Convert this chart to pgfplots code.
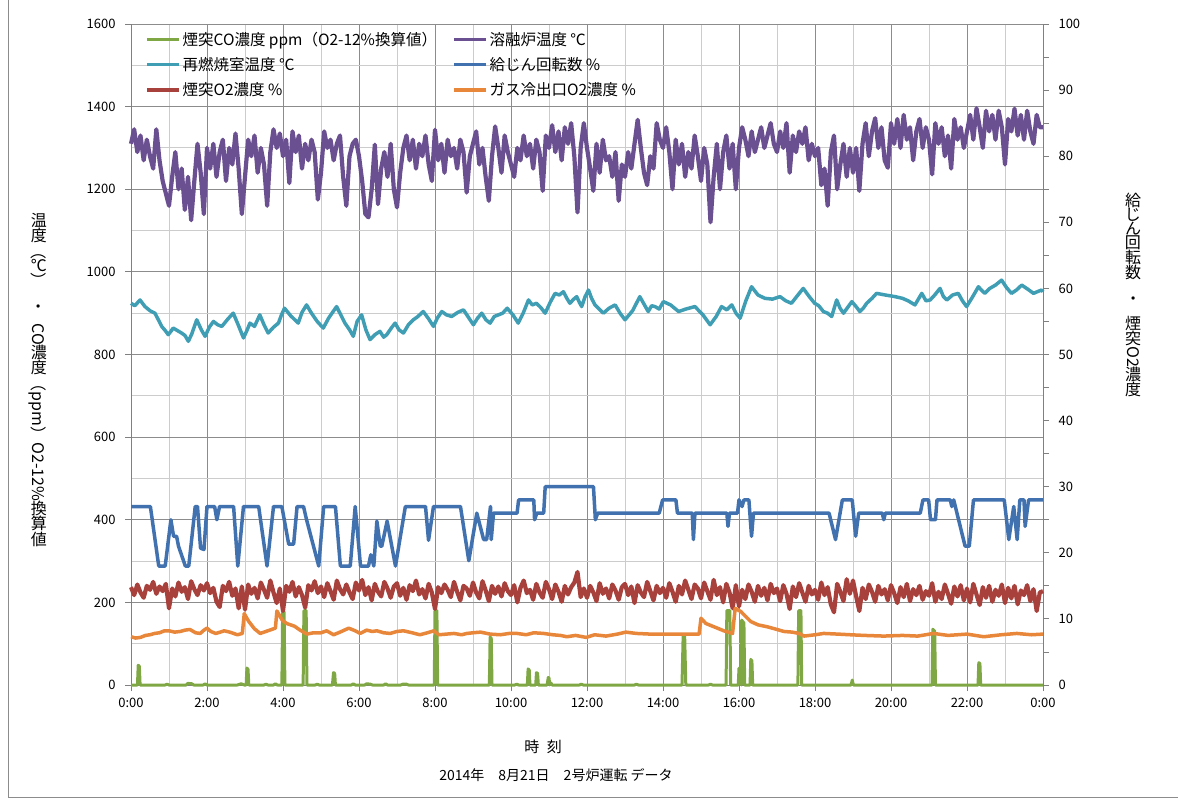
\documentclass[border=0pt]{standalone}
\usepackage{pgfplots}
\pgfplotsset{compat=1.18}
\usepackage{fontspec}
\setmainfont{Noto Sans CJK JP}
\definecolor{cGreen}{HTML}{7FA845}
\definecolor{cPurple}{HTML}{6B5091}
\definecolor{cTeal}{HTML}{409EB4}
\definecolor{cBlue}{HTML}{4172AF}
\definecolor{cRed}{HTML}{A8403C}
\definecolor{cOrange}{HTML}{E8863A}
\newcommand\U[1]{\rotatebox[origin=c]{90}{#1}\hspace{0.5pt}}
\begin{document}
\begin{tikzpicture}[x=1pt,y=1pt]
\useasboundingbox (0pt,0pt) rectangle (1178pt,801pt);
\draw[black!45] (8pt,801pt) -- (8pt,4pt) -- (1178pt,4pt);
\begin{axis}[at={(131pt,116pt)}, anchor=south west, scale only axis,
  width=912pt, height=661pt, clip=false,
  xmin=0, xmax=24, ymin=0, ymax=1600,
  xtick={0,2,...,24},
  xticklabels={0:00,2:00,4:00,6:00,8:00,10:00,12:00,14:00,16:00,18:00,20:00,22:00,0:00},
  minor xtick={1,3,...,23},
  ytick={0,200,...,1600}, minor ytick={100,300,...,1500},
  grid=both,
  major grid style={draw=black!45, line width=0.9pt},
  minor grid style={draw=black!20, line width=0.9pt},
  axis x line*=bottom, axis y line*=left,
  axis line style={draw=black!50, line width=0.9pt},
  tick align=outside, major tick length=6pt, minor tick length=0pt,
  tick style={draw=black!50, line width=0.9pt},
  ticklabel style={font=\fontsize{13}{15}\selectfont},
  yticklabel style={xshift=-6pt},
  xticklabel style={yshift=-4pt},
  /pgf/number format/assume math mode=true,
  /pgf/number format/1000 sep={},
  legend style={at={(0.012,0.994)}, anchor=north west, draw=none, fill=none,
    font=\fontsize{15.5}{17}\selectfont, row sep=6.5pt,
    /tikz/every even column/.append style={column sep=13pt}},
  legend columns=2, legend cell align=left,
  legend image code/.code={\draw[#1, line width=3.5pt] (0pt,0pt) -- (32pt,0pt);},
]
% CO ppm
\addplot[cGreen, line width=3pt, line join=round] coordinates {
(0,0) (0.17,0) (0.19,48) (0.22,45) (0.24,0) (0.9,0)(0.95,2)(1.0,0)(1.45,0)(1.5,4)(1.6,3)(1.65,0)(1.9,0)(1.95,3)(2.0,0)(2.8,0)(2.9,3)(2.98,0)(3.03,0)(3.05,41)(3.08,38)(3.1,0)(3.5,0)(3.55,2)(3.6,0)(3.75,0)(3.8,3)(3.85,0)(3.97,0)(3.99,177)(4.03,177)(4.05,0)(4.53,0)(4.55,180)(4.61,180)(4.63,0)(4.85,0)(4.9,2)(4.95,0)(5.3,0)(5.33,30)(5.36,28)(5.38,0)(5.8,0)(5.85,3)(5.9,0)(6.15,0)(6.2,3)(6.3,2)(6.35,0)(6.65,0)(6.7,3)(6.75,0)(7.1,0)(7.15,2)(7.25,2)(7.3,0)(7.98,0)(8.0,180)(8.05,180)(8.07,0)(9.43,0)(9.45,116)(9.48,113)(9.5,0)(10.1,0)(10.15,2)(10.2,0)(10.43,0)(10.45,39)(10.48,36)(10.5,0)(10.65,0)(10.67,30)(10.7,28)(10.72,0)(10.95,0)(10.98,18)(11.0,17)(11.02,0)(11.05,5)(11.08,0)(11.8,0)(11.85,2)(11.9,0)(13.25,0)(13.3,2)(13.35,0)(14.5,0)(14.53,120)(14.57,120)(14.6,0)(15.2,0)(15.25,2)(15.3,0)(15.66,0)(15.68,180)(15.76,180)(15.78,0)(15.98,0)(16.0,41)(16.04,41)(16.06,0)(16.07,157)(16.13,150)(16.15,0)(16.29,0)(16.31,62)(16.34,58)(16.36,0)(17.55,0)(17.57,180)(17.63,180)(17.65,0)(18.95,0)(18.98,12)(19.01,0)(21.08,0)(21.1,135)(21.15,130)(21.17,0)(22.29,0)(22.31,54)(22.34,52)(22.36,0)(24,0)};
\addlegendentry{煙突CO濃度 ppm（O2-12\%換算値）}
% melting furnace temperature, 5-min samples
\addplot[cPurple, line width=4.2pt, line join=round] table[row sep=\\, x expr=\coordindex/12, y index=0] {
1310\\1345\\1290\\1330\\1270\\1320\\1280\\1250\\1345\\1270\\1220\\1190\\
1160\\1230\\1290\\1200\\1250\\1150\\1230\\1125\\1220\\1310\\1240\\1140\\
1300\\1250\\1310\\1230\\1290\\1320\\1220\\1300\\1260\\1335\\1250\\1140\\
1230\\1320\\1280\\1330\\1240\\1300\\1260\\1160\\1290\\1345\\1300\\1335\\
1280\\1320\\1215\\1340\\1290\\1330\\1250\\1310\\1270\\1320\\1290\\1175\\
1240\\1340\\1300\\1320\\1270\\1310\\1330\\1230\\1160\\1280\\1310\\1320\\
1280\\1220\\1140\\1132\\1200\\1308\\1164\\1250\\1290\\1230\\1310\\1200\\
1156\\1240\\1300\\1330\\1270\\1320\\1250\\1310\\1280\\1330\\1260\\1220\\
1344\\1270\\1310\\1240\\1320\\1280\\1300\\1250\\1320\\1290\\1192\\1280\\
1310\\1340\\1260\\1300\\1230\\1172\\1280\\1352\\1300\\1240\\1330\\1290\\
1260\\1230\\1300\\1270\\1330\\1280\\1310\\1250\\1320\\1290\\1196\\1330\\
1300\\1355\\1290\\1340\\1270\\1350\\1310\\1360\\1280\\1144\\1300\\1360\\
1300\\1250\\1196\\1310\\1240\\1320\\1270\\1280\\1230\\1290\\1172\\1260\\
1230\\1290\\1250\\1310\\1368\\1300\\1240\\1210\\1280\\1250\\1360\\1320\\
1300\\1350\\1290\\1200\\1320\\1260\\1310\\1230\\1290\\1250\\1330\\1280\\
1220\\1300\\1260\\1120\\1230\\1310\\1200\\1290\\1330\\1250\\1310\\1200\\
1300\\1350\\1320\\1280\\1340\\1290\\1320\\1350\\1300\\1330\\1360\\1310\\
1290\\1340\\1300\\1360\\1240\\1330\\1290\\1340\\1310\\1350\\1270\\1310\\
1280\\1300\\1210\\1250\\1160\\1290\\1330\\1200\\1260\\1310\\1230\\1300\\
1240\\1300\\1196\\1310\\1360\\1280\\1340\\1372\\1300\\1350\\1270\\1252\\
1360\\1310\\1370\\1300\\1380\\1320\\1350\\1270\\1340\\1370\\1300\\1350\\
1320\\1236\\1360\\1310\\1350\\1280\\1330\\1250\\1370\\1320\\1350\\1300\\
1340\\1380\\1320\\1396\\1350\\1300\\1390\\1340\\1380\\1320\\1390\\1350\\
1260\\1370\\1340\\1395\\1330\\1380\\1320\\1390\\1340\\1310\\1380\\1350\\
1350\\
};
\addlegendentry{溶融炉温度 ℃}
% re-combustion chamber temperature
\addplot[cTeal, line width=3.5pt, line join=round] coordinates {
(0,924)(0.1,918)(0.237,932)(0.368,916)(0.5,906)(0.63,900)(0.72,884)(0.807,868)(0.9,858)(0.98,848)(1.05,856)(1.11,864)(1.22,858)(1.33,852)(1.42,846)(1.51,832)(1.6,850)(1.73,884)(1.85,860)(1.95,844)(2.06,866)(2.17,880)(2.28,872)(2.39,868)(2.55,886)(2.69,900)(2.82,872)(2.96,840)(3.05,858)(3.13,876)(3.25,868)(3.39,896)(3.5,872)(3.61,852)(3.75,866)(3.88,876)(3.96,896)(4.04,912)(4.2,894)(4.4,876)(4.5,902)(4.62,920)(4.75,900)(4.9,880)(5.06,864)(5.2,888)(5.41,916)(5.52,896)(5.63,876)(5.75,860)(5.85,844)(5.95,880)(6.07,896)(6.18,860)(6.29,836)(6.42,848)(6.55,856)(6.65,842)(6.73,848)(6.85,864)(6.95,876)(7.05,860)(7.17,852)(7.3,872)(7.43,884)(7.55,892)(7.69,904)(7.82,888)(7.96,868)(8.06,888)(8.18,904)(8.3,896)(8.44,892)(8.6,902)(8.75,908)(8.88,890)(9.01,872)(9.12,888)(9.23,900)(9.34,884)(9.45,876)(9.56,892)(9.67,896)(9.78,900)(9.9,912)(10.05,896)(10.19,876)(10.32,900)(10.46,932)(10.56,920)(10.67,924)(10.78,914)(10.9,900)(11.03,926)(11.16,948)(11.27,944)(11.38,952)(11.47,936)(11.55,924)(11.65,934)(11.73,940)(11.8,926)(11.86,916)(11.95,940)(12.04,956)(12.12,936)(12.21,920)(12.32,910)(12.43,900)(12.58,912)(12.74,920)(12.87,900)(13.0,884)(13.2,906)(13.39,940)(13.5,922)(13.61,904)(13.7,918)(13.79,916)(13.9,910)(14.01,928)(14.2,920)(14.41,904)(14.6,910)(14.84,916)(15.05,896)(15.24,872)(15.4,892)(15.54,916)(15.68,908)(15.81,920)(15.92,900)(16.03,888)(16.18,930)(16.33,964)(16.5,944)(16.68,936)(16.88,934)(17.08,940)(17.23,930)(17.38,924)(17.55,944)(17.69,960)(17.85,940)(17.99,924)(18.1,918)(18.22,904)(18.33,900)(18.44,892)(18.57,932)(18.66,912)(18.75,900)(18.86,914)(18.97,928)(19.08,916)(19.18,904)(19.27,912)(19.36,924)(19.5,936)(19.62,948)(19.85,944)(20.11,940)(20.3,936)(20.45,930)(20.63,920)(20.72,934)(20.81,948)(20.92,930)(21.03,932)(21.15,944)(21.29,960)(21.38,940)(21.47,932)(21.62,944)(21.77,948)(21.88,930)(21.99,916)(22.15,940)(22.3,964)(22.38,956)(22.47,948)(22.6,960)(22.75,968)(22.91,980)(23.04,962)(23.17,948)(23.3,956)(23.44,968)(23.6,958)(23.75,948)(23.85,952)(23.96,956)(24,952)};
\addlegendentry{再燃焼室温度 ℃}
\addlegendimage{cBlue}
\addlegendentry{給じん回転数 \%}
\addlegendimage{cRed}
\addlegendentry{煙突O2濃度 \%}
\addlegendimage{cOrange}
\addlegendentry{ガス冷出口O2濃度 \%}
\end{axis}
\begin{axis}[at={(131pt,116pt)}, anchor=south west, scale only axis,
  width=912pt, height=661pt, clip=false,
  xmin=0, xmax=24, ymin=0, ymax=100,
  axis x line=none, axis y line*=right,
  ytick={0,10,...,100}, minor ytick={5,15,...,95},
  axis line style={draw=black!50, line width=0.9pt},
  tick align=outside, major tick length=6pt, minor tick length=6pt,
  tick style={draw=black!50, line width=0.9pt},
  ticklabel style={font=\fontsize{13}{15}\selectfont},
  yticklabel style={xshift=6pt},
  /pgf/number format/assume math mode=true,
]
% feed rotation %
\addplot[cBlue, line width=3.5pt, line join=round] coordinates {
(0,27) (0.51,27) (0.73,18) (0.9,18) (1.05,25) (1.12,22.5) (1.2,22.5) (1.25,21) (1.43,18) (1.52,18) (1.69,27) (1.75,27) (1.83,20.7) (1.92,20.5) (2.0,27) (2.2,27) (2.26,25) (2.33,27) (2.7,27) (2.81,18) (2.96,27) (3.36,27) (3.58,18) (3.75,27) (3.97,27) (4.15,21.3) (4.28,21.3) (4.37,27) (4.54,27) (4.62,25) (4.94,18) (5.07,27) (5.38,27) (5.51,18) (5.77,18) (5.9,27) (6.04,18) (6.25,18) (6.31,19.7) (6.39,18) (6.47,24.8) (6.56,21) (6.6,21) (6.74,24.8) (6.96,18) (7.22,27) (7.75,27) (7.83,21.9) (7.96,27) (8.67,27) (8.89,18.8) (9.1,26) (9.28,22) (9.36,22) (9.46,27) (9.48,22) (9.54,26) (10.16,26) (10.2,28) (10.6,28) (10.62,25) (10.68,26) (10.86,26) (10.9,30) (12.17,30) (12.22,25) (12.28,26) (13.9,26) (13.99,28) (14.34,28) (14.38,26) (14.77,26) (14.8,22) (14.84,26) (15.68,26) (15.71,24) (15.75,26) (15.96,26) (16.0,28) (16.08,27) (16.13,28) (16.26,28) (16.33,22.5) (16.38,26) (18.37,26) (18.54,22) (18.72,28) (18.98,28) (19.07,22.5) (19.15,26) (19.77,26) (19.81,25) (19.85,26) (20.77,26) (20.84,28) (20.99,28) (21.04,25) (21.17,25) (21.21,28) (21.56,28) (21.6,27) (21.65,28) (21.95,21) (22.06,21) (22.17,28) (22.98,28) (23.1,22) (23.23,27) (23.32,22) (23.39,28) (23.5,28) (23.53,24) (23.62,28) (24,28)};
% stack O2 %, 5-min samples
\addplot[cRed, line width=4.2pt, line join=round] table[row sep=\\, x expr=\coordindex/12, y index=0] {
14.8\\13.6\\15.2\\14.0\\13.2\\15.0\\14.4\\15.6\\13.8\\14.9\\14.2\\15.3\\
11.6\\14.6\\13.4\\15.5\\14.1\\14.8\\13.0\\15.7\\14.5\\13.6\\15.1\\14.3\\
15.4\\13.9\\14.7\\12.6\\11.8\\15.0\\14.2\\15.6\\13.5\\14.6\\11.6\\14.9\\
11.4\\15.2\\13.8\\14.7\\13.1\\15.5\\14.4\\13.2\\15.8\\14.0\\12.4\\14.6\\
11.2\\15.0\\14.1\\15.6\\13.4\\14.8\\13.6\\11.7\\15.1\\14.3\\15.7\\13.9\\
14.9\\13.3\\15.4\\14.2\\12.9\\15.8\\14.5\\13.7\\15.2\\14.0\\13.0\\15.5\\
14.3\\15.9\\13.6\\14.8\\12.8\\15.3\\14.1\\13.4\\15.6\\14.6\\13.2\\14.9\\
15.4\\13.5\\14.7\\12.9\\15.1\\14.2\\15.8\\13.7\\14.5\\13.1\\15.3\\14.0\\
11.5\\14.8\\13.9\\15.2\\14.4\\13.3\\15.6\\14.1\\12.8\\15.0\\14.6\\13.5\\
15.5\\14.0\\13.1\\15.7\\14.3\\12.7\\15.0\\13.8\\14.9\\13.4\\15.4\\14.2\\
13.6\\15.1\\12.5\\14.7\\15.8\\13.9\\14.4\\12.9\\15.3\\14.0\\13.2\\15.6\\
14.5\\13.0\\15.2\\14.1\\12.6\\15.0\\13.7\\14.8\\15.5\\17.1\\13.3\\14.6\\
13.2\\15.0\\14.0\\12.7\\15.4\\13.8\\14.6\\13.1\\15.2\\14.3\\12.9\\14.8\\
15.3\\13.6\\14.9\\12.4\\15.1\\14.0\\13.3\\15.6\\14.2\\12.8\\15.0\\13.9\\
14.7\\13.2\\15.4\\14.1\\12.6\\15.0\\13.7\\15.8\\14.4\\13.0\\15.2\\14.6\\
13.1\\15.5\\14.2\\12.9\\15.9\\13.6\\14.8\\12.5\\15.3\\14.0\\11.6\\15.1\\
11.9\\14.4\\13.0\\15.2\\14.1\\12.6\\15.0\\13.5\\14.7\\12.8\\15.3\\13.9\\
14.6\\12.7\\15.1\\13.8\\11.5\\14.9\\13.3\\15.4\\14.0\\12.6\\15.0\\13.7\\
14.4\\12.9\\15.5\\13.6\\14.8\\12.2\\11.0\\15.3\\14.1\\12.7\\16.0\\13.8\\
15.8\\13.4\\11.2\\14.7\\13.0\\15.2\\14.1\\12.6\\15.0\\13.7\\14.5\\12.8\\
15.1\\13.9\\12.4\\14.8\\13.3\\15.3\\12.7\\14.5\\13.6\\15.0\\12.9\\14.2\\
13.5\\15.4\\12.6\\14.1\\13.0\\15.2\\13.8\\12.3\\14.9\\13.4\\15.1\\12.8\\
14.6\\12.5\\15.3\\13.7\\12.1\\14.8\\13.2\\15.0\\12.6\\14.4\\13.5\\15.2\\
12.4\\14.7\\13.1\\15.0\\12.2\\14.3\\13.6\\15.1\\12.7\\14.5\\11.2\\14.0\\
14.2\\
};
% gas cooler outlet O2 %
\addplot[cOrange, line width=3.5pt, line join=round] coordinates {
(0,7.3)(0.12,7.1)(0.25,7.2)(0.38,7.5)(0.5,7.6)(0.62,7.8)(0.75,7.9)(0.88,8.2)(1.0,8.2)(1.15,8.0)(1.3,8.1)(1.42,8.3)(1.55,8.4)(1.7,7.9)(1.82,7.8)(1.92,8.3)(2.0,8.6)(2.1,8.1)(2.23,7.8)(2.35,8.0)(2.45,8.2)(2.6,8.0)(2.8,7.6)(2.93,7.8)(2.98,10.8)(3.1,9.6)(3.25,8.5)(3.4,7.8)(3.6,8.2)(3.8,8.6)(3.84,11.2)(3.98,9.8)(4.1,9.3)(4.3,8.9)(4.45,8.3)(4.63,7.7)(4.8,7.9)(5.0,7.9)(5.15,8.2)(5.33,7.6)(5.5,8.0)(5.73,8.6)(5.9,8.2)(6.03,7.8)(6.2,8.3)(6.35,8.1)(6.47,8.2)(6.65,7.9)(6.82,7.8)(7.0,8.1)(7.17,8.2)(7.4,7.9)(7.6,7.6)(7.8,7.9)(7.97,8.2)(8.1,7.6)(8.3,7.7)(8.5,7.8)(8.7,7.6)(8.84,7.8)(9.0,7.9)(9.2,8.0)(9.45,7.7)(9.72,7.6)(9.95,7.8)(10.16,7.8)(10.4,7.6)(10.6,7.9)(10.86,7.8)(11.1,7.6)(11.3,7.5)(11.47,7.3)(11.7,7.5)(11.98,7.2)(12.2,7.6)(12.5,7.4)(12.8,7.7)(13.02,8.0)(13.3,7.8)(13.67,7.7)(14.0,7.7)(14.56,7.7)(14.95,7.7)(15.0,10.1)(15.13,9.3)(15.43,8.6)(15.6,8.2)(15.83,7.8)(15.9,11.6)(16.05,11.1)(16.31,9.6)(16.5,9.1)(16.75,8.8)(17.0,8.4)(17.18,8.1)(17.4,8.0)(17.58,7.8)(17.71,7.4)(18.0,7.6)(18.23,7.8)(18.6,7.7)(18.93,7.6)(19.3,7.5)(19.81,7.4)(20.3,7.5)(20.7,7.4)(21.12,7.8)(21.5,7.5)(22.0,7.7)(22.44,7.3)(22.9,7.6)(23.31,7.8)(23.7,7.6)(24,7.7)};
\end{axis}
\node[font=\fontsize{15}{17}\selectfont] at (543pt,54pt) {時\hspace{0.5em}刻};
\node[font=\fontsize{14}{16}\selectfont] at (556pt,26pt) {2014年\hspace{1em}8月21日\hspace{1em}2号炉運転 データ};
\node[rotate=-90, font=\fontsize{16}{18}\selectfont, inner sep=0pt] at (38pt,421pt)
  {\U{温}\U{度}（\U{℃}）\hspace{0.6em}・\hspace{0.6em}CO\U{濃}\U{度}（ppm）O2-12\%\U{換}\U{算}\U{値}};
\node[rotate=-90, font=\fontsize{16}{18}\selectfont, inner sep=0pt] at (1133pt,506pt)
  {\U{給}\U{じ}\U{ん}\U{回}\U{転}\U{数}\hspace{0.6em}・\hspace{0.6em}\U{煙}\U{突}O2\U{濃}\U{度}};
\end{tikzpicture}
\end{document}
